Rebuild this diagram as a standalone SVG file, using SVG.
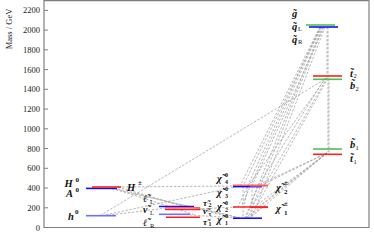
<svg xmlns="http://www.w3.org/2000/svg" width="374" height="244" viewBox="0 0 374 244">
<style>
.ax{fill:none;stroke:#808080;stroke-width:1.2}
.tk{stroke:#808080;stroke-width:1}
.tl{font-family:"Liberation Serif","DejaVu Serif",serif;font-size:8.5px;fill:#222;text-anchor:end}
.yl{font-family:"Liberation Serif","DejaVu Serif",serif;font-size:8.5px;fill:#222}
.lb{font-family:"Liberation Serif","DejaVu Serif",serif;font-size:10.5px;font-weight:bold;font-style:italic;fill:#111}
.sm{font-size:9px}
.md{font-size:9.8px}
.sp{font-size:7px;font-style:normal}
.su{font-size:6.5px;font-style:normal;font-weight:normal}
.ss{font-size:6px;font-style:normal}
.b{stroke:#1010ff;stroke-width:1.6}
.lbB{stroke:#7070ff;stroke-width:1.6}
.r{stroke:#ff2020;stroke-width:1.6}
.pk{stroke:#ff6060;stroke-width:1.6}
.g{stroke:#50c050;stroke-width:1.6}
.dc{stroke:#9a9a9a;stroke-width:0.7;stroke-dasharray:2.5 1.5;fill:none}
</style>
<rect width="374" height="244" fill="#fff"/>
<g id="axes">
<path class="ax" d="M44,0.6 H369 V227.5 H44 Z"/>
<g class="tk">
<line x1="44" y1="227.5" x2="48" y2="227.5"/><line x1="44" y1="207.8" x2="48" y2="207.8"/><line x1="44" y1="188" x2="48" y2="188"/><line x1="44" y1="168.3" x2="48" y2="168.3"/><line x1="44" y1="148.5" x2="48" y2="148.5"/><line x1="44" y1="128.8" x2="48" y2="128.8"/><line x1="44" y1="109.1" x2="48" y2="109.1"/><line x1="44" y1="89.3" x2="48" y2="89.3"/><line x1="44" y1="69.6" x2="48" y2="69.6"/><line x1="44" y1="49.8" x2="48" y2="49.8"/><line x1="44" y1="30.1" x2="48" y2="30.1"/><line x1="44" y1="10.4" x2="48" y2="10.4"/>
</g>
<text class="tl" x="40" y="230.5">0</text>
<text class="tl" x="40" y="210.8">200</text>
<text class="tl" x="40" y="191">400</text>
<text class="tl" x="40" y="171.3">600</text>
<text class="tl" x="40" y="151.5">800</text>
<text class="tl" x="40" y="131.8">1000</text>
<text class="tl" x="40" y="112.1">1200</text>
<text class="tl" x="40" y="92.3">1400</text>
<text class="tl" x="40" y="72.6">1600</text>
<text class="tl" x="40" y="52.8">1800</text>
<text class="tl" x="40" y="33.1">2000</text>
<text class="tl" x="40" y="13.4">2200</text>
<text class="yl" transform="translate(12,29) rotate(-90)" text-anchor="middle">Mass / GeV</text>
</g>
<g id="connectors">
<line class="dc" x1="100" y1="215.7" x2="327" y2="78"/>
<line class="dc" x1="102" y1="215.7" x2="240" y2="186"/>
<line class="dc" x1="104" y1="215.7" x2="175" y2="207"/>
<line class="dc" x1="108" y1="188" x2="240" y2="218"/>
<line class="dc" x1="112" y1="188" x2="195" y2="215"/>
<line class="dc" x1="114" y1="188" x2="230" y2="217"/>
<line class="dc" x1="118" y1="187" x2="185" y2="207"/>
<line class="dc" x1="118" y1="187" x2="238" y2="186"/>
<line class="dc" x1="195" y1="207" x2="240" y2="218"/>
<line class="dc" x1="190" y1="215" x2="236" y2="218"/>
<line class="dc" x1="198" y1="209" x2="236" y2="207"/>
<line class="dc" x1="243" y1="186" x2="243" y2="218"/>
<line class="dc" x1="248" y1="186" x2="244" y2="207"/>
<line class="dc" x1="252" y1="186" x2="252" y2="218"/>
<line class="dc" x1="258" y1="186" x2="246" y2="218"/>
<line class="dc" x1="262" y1="207" x2="248" y2="218"/>
<line class="dc" x1="320" y1="27" x2="240" y2="186"/>
<line class="dc" x1="321" y1="27" x2="243" y2="186"/>
<line class="dc" x1="320" y1="27" x2="238" y2="207"/>
<line class="dc" x1="321" y1="27" x2="241" y2="207"/>
<line class="dc" x1="322" y1="27" x2="245" y2="218"/>
<line class="dc" x1="323" y1="27" x2="248" y2="218"/>
<line class="dc" x1="324" y1="27" x2="252" y2="186"/>
<line class="dc" x1="325" y1="27" x2="256" y2="207"/>
<line class="dc" x1="327" y1="27" x2="327" y2="77"/>
<line class="dc" x1="328" y1="27" x2="328" y2="152"/>
<line class="dc" x1="329" y1="78" x2="329" y2="153"/>
<line class="dc" x1="326" y1="78" x2="248" y2="186"/>
<line class="dc" x1="327" y1="78" x2="252" y2="207"/>
<line class="dc" x1="328" y1="78" x2="250" y2="218"/>
<line class="dc" x1="325" y1="78" x2="258" y2="186"/>
<line class="dc" x1="327" y1="153" x2="256" y2="186"/>
<line class="dc" x1="327" y1="153" x2="260" y2="186"/>
<line class="dc" x1="327" y1="153" x2="254" y2="207"/>
<line class="dc" x1="327" y1="153" x2="258" y2="207"/>
<line class="dc" x1="327" y1="153" x2="250" y2="218"/>
<line class="dc" x1="327" y1="153" x2="246" y2="218"/>
</g>
<g id="h0">
<line class="lbB" x1="86" y1="215.7" x2="116" y2="215.7"/>
<text class="lb" x="68" y="220">h<tspan class="sp" x="75" y="214">0</tspan></text>
</g>
<g id="H0A0">
<line class="b" x1="86" y1="188.4" x2="117" y2="188.4"/>
<text class="lb" x="64.5" y="187">H<tspan class="sp" x="75.5" y="182">0</tspan></text>
<text class="lb" x="66" y="196.5">A<tspan class="sp" x="75.5" y="191.5">0</tspan></text>
</g>
<g id="Hpm">
<line class="r" x1="92" y1="187" x2="121" y2="187"/>
<text class="lb" x="127" y="191">H<tspan class="sp" x="138" y="185">±</tspan></text>
</g>
<g id="sleptons">
<line class="b" x1="159" y1="206.5" x2="194" y2="206.5"/>
<line class="pk" x1="165" y1="207.8" x2="200" y2="207.8"/>
<line class="r" x1="165" y1="209.5" x2="200" y2="209.5"/>
<line class="lbB" x1="159" y1="214.3" x2="190" y2="214.3"/>
<line class="r" x1="166" y1="217.3" x2="200" y2="217.3"/>
<text class="lb md" x="143" y="202">ℓ̃<tspan class="su" x="150" y="204">L</tspan></text>
<text class="lb md" x="143" y="212.5">ν̃<tspan class="su" x="150" y="214.5">L</tspan></text>
<text class="lb md" x="143" y="225.5">ℓ̃<tspan class="su" x="150" y="227.5">R</tspan></text>
</g>
<g id="staus">
<text class="lb sm" x="203" y="205.5">τ̃<tspan class="ss" x="208.5" y="207">2</tspan></text>
<text class="lb sm" x="203" y="214">ν̃<tspan class="ss" x="208.5" y="215.5">τ</tspan></text>
<text class="lb sm" x="203" y="224.5">τ̃<tspan class="ss" x="208.5" y="226">1</tspan></text>
</g>
<g id="neutralinos">
<line class="b" x1="233" y1="186.6" x2="262" y2="186.6"/>
<line class="pk" x1="233" y1="185.3" x2="268" y2="185.3"/>
<line class="r" x1="233" y1="207" x2="268" y2="207"/>
<line class="b" x1="233" y1="218.2" x2="262" y2="218.2"/>
<text class="lb" x="217" y="181.5">χ̃<tspan class="ss" x="225" y="176.5">0</tspan><tspan class="ss" x="225" y="183.5">4</tspan></text>
<text class="lb" x="217" y="195.5">χ̃<tspan class="ss" x="225" y="190.5">0</tspan><tspan class="ss" x="225" y="197.5">3</tspan></text>
<text class="lb" x="217" y="209.5">χ̃<tspan class="ss" x="225" y="204.5">0</tspan><tspan class="ss" x="225" y="211.5">2</tspan></text>
<text class="lb" x="217" y="222.5">χ̃<tspan class="ss" x="225" y="217.5">0</tspan><tspan class="ss" x="225" y="224.5">1</tspan></text>
</g>
<g id="charginos">
<line class="pk" x1="250" y1="185.8" x2="268" y2="185.8"/>
<line class="r" x1="250" y1="207.3" x2="268" y2="207.3"/>
<text class="lb" x="276" y="191">χ̃<tspan class="sp" x="284" y="185">±</tspan><tspan class="sp" x="284" y="193.5">2</tspan></text>
<text class="lb" x="276" y="212">χ̃<tspan class="sp" x="284" y="206">±</tspan><tspan class="sp" x="284" y="214.5">1</tspan></text>
</g>
<g id="gluino-squarks">
<line class="g" x1="306" y1="25" x2="335" y2="25"/>
<line class="b" x1="309" y1="27" x2="338" y2="27"/>
<text class="lb" x="292" y="17">g̃</text>
<text class="lb" x="292" y="30">q̃<tspan class="su" x="298" y="31">L</tspan></text>
<text class="lb" x="292" y="42.5">q̃<tspan class="su" x="298" y="43.5">R</tspan></text>
</g>
<g id="stop2-sbottom2">
<line class="r" x1="313" y1="76" x2="342" y2="76"/>
<line class="g" x1="313" y1="79.3" x2="342" y2="79.3"/>
<text class="lb" x="350" y="76.5">t̃<tspan class="su" x="353.5" y="78">2</tspan></text>
<text class="lb" x="350" y="89">b̃<tspan class="su" x="355.5" y="90.5">2</tspan></text>
</g>
<g id="sbottom1-stop1">
<line class="g" x1="313" y1="149" x2="342" y2="149"/>
<line class="r" x1="313" y1="154.3" x2="342" y2="154.3"/>
<text class="lb" x="350" y="148">b̃<tspan class="su" x="355.5" y="149.5">1</tspan></text>
<text class="lb" x="350" y="162">t̃<tspan class="su" x="353.5" y="163.5">1</tspan></text>
</g>
</svg>
